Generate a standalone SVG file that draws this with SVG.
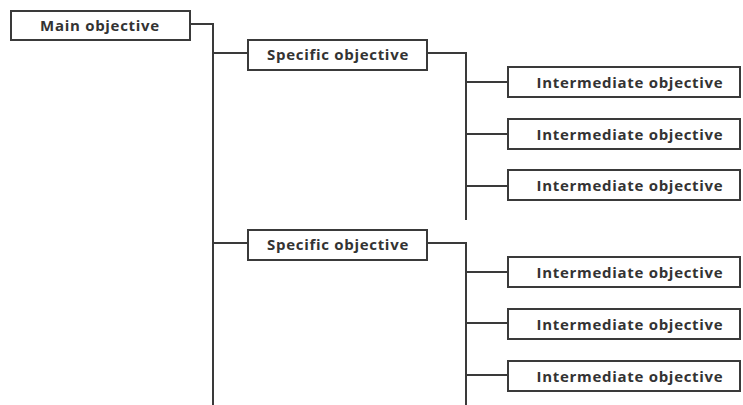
<svg xmlns="http://www.w3.org/2000/svg" width="743" height="405" viewBox="0 0 743 405">
  <style>
    .box { fill: #ffffff; stroke: #3a3a3a; stroke-width: 2; }
    .lbl { font-family: "Open Sans", "DejaVu Sans", sans-serif; font-weight: bold; font-size: 15px; letter-spacing: 0.7px; fill: #333333; text-anchor: middle; dominant-baseline: central; }
    .wire { fill: none; stroke: #3a3a3a; stroke-width: 2; }
  </style>
  <rect width="743" height="405" fill="#ffffff"/>

  <!-- connectors -->
  <g id="connectors">
    <!-- main trunk -->
    <path class="wire" d="M190 24 H213 V405"/>
    <path class="wire" d="M213 53 H248"/>
    <path class="wire" d="M213 243 H248"/>
    <!-- first specific branch -->
    <path class="wire" d="M427 53 H466 V220"/>
    <path class="wire" d="M466 82 H508"/>
    <path class="wire" d="M466 134 H508"/>
    <path class="wire" d="M466 186 H508"/>
    <!-- second specific branch -->
    <path class="wire" d="M427 243 H466 V405"/>
    <path class="wire" d="M466 272 H508"/>
    <path class="wire" d="M466 323 H508"/>
    <path class="wire" d="M466 375 H508"/>
  </g>

  <g id="main">
    <rect class="box" x="11" y="11" width="179" height="29"/>
    <text class="lbl" x="100" y="25">Main objective</text>
  </g>

  <g id="specific1">
    <rect class="box" x="248" y="40" width="179" height="30"/>
    <text class="lbl" x="338" y="54">Specific objective</text>
  </g>
  <g id="inter1">
    <rect class="box" x="508" y="67" width="232" height="30"/>
    <text class="lbl" x="630" y="82">Intermediate objective</text>
  </g>
  <g id="inter2">
    <rect class="box" x="508" y="119" width="232" height="30"/>
    <text class="lbl" x="630" y="134">Intermediate objective</text>
  </g>
  <g id="inter3">
    <rect class="box" x="508" y="170" width="232" height="30"/>
    <text class="lbl" x="630" y="185">Intermediate objective</text>
  </g>

  <g id="specific2">
    <rect class="box" x="248" y="230" width="179" height="30"/>
    <text class="lbl" x="338" y="244">Specific objective</text>
  </g>
  <g id="inter4">
    <rect class="box" x="508" y="257" width="232" height="30"/>
    <text class="lbl" x="630" y="272">Intermediate objective</text>
  </g>
  <g id="inter5">
    <rect class="box" x="508" y="309" width="232" height="30"/>
    <text class="lbl" x="630" y="324">Intermediate objective</text>
  </g>
  <g id="inter6">
    <rect class="box" x="508" y="361" width="232" height="30"/>
    <text class="lbl" x="630" y="376">Intermediate objective</text>
  </g>
</svg>
